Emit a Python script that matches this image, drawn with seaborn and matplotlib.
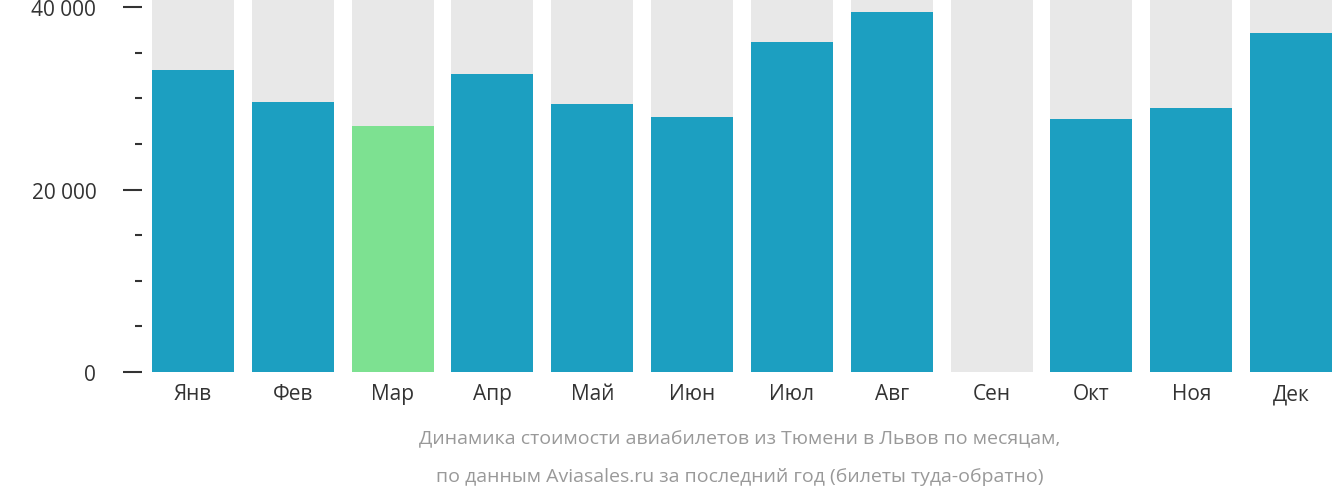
import matplotlib
matplotlib.use("Agg")
import matplotlib.pyplot as plt
import seaborn as sns
import pandas as pd

months = ["Янв", "Фев", "Мар", "Апр", "Май", "Июн", "Июл", "Авг", "Сен", "Окт", "Ноя", "Дек"]
prices = [33100, 29600, 26950, 32650, 29400, 27950, 36150, 39450, 0, 27700, 28950, 37150]
cheapest = "Мар"
ymax = 40900

df = pd.DataFrame({"month": months, "price": prices})
df["bg"] = ymax
colors = ["#6cf287" if m == cheapest else "#00b0dc" for m in months]

plt.rcParams["font.family"] = "Open Sans"
fig = plt.figure(figsize=(13.32, 5.02), dpi=100)
ax = fig.add_axes([152 / 1332, 129 / 502, 1 - 152 / 1332, 373 / 502])

sns.barplot(data=df, x="month", y="bg", color="#e8e8e8", width=0.82, ax=ax)
sns.barplot(data=df, x="month", y="price", hue="month", palette=colors,
            width=0.82, legend=False, ax=ax)

ax.set_xlim(-0.41, 11.41)
ax.set_ylim(0, ymax)
ax.set_yticks([0, 20000, 40000])
ax.set_yticklabels(["0 ₽", "20 000 ₽", "40 000 ₽"])
ax.set_yticks(range(0, 40001, 5000), minor=True)
ax.tick_params(axis="y", which="major", length=14, width=1.5, color="#333333",
               labelsize=15, labelcolor="#333333", pad=6)
ax.tick_params(axis="y", which="minor", length=5, width=1.5, color="#333333")
ax.tick_params(axis="x", length=0, labelsize=15, labelcolor="#333333", pad=8)
ax.spines[:].set_visible(False)
ax.set_xlabel("")
ax.set_ylabel("")
# shift y ticks left of the bars
ax.yaxis.set_tick_params(which="both", direction="out")
for t in ax.yaxis.get_major_ticks() + ax.yaxis.get_minor_ticks():
    t.tick1line.set_transform(t.tick1line.get_transform() + matplotlib.transforms.ScaledTranslation(-10 / 100, 0, fig.dpi_scale_trans))
    t.label1.set_transform(t.label1.get_transform() + matplotlib.transforms.ScaledTranslation(-10 / 100, 0, fig.dpi_scale_trans))

fig.text(0.555, 0.115, "Динамика стоимости авиабилетов из Тюмени в Львов по месяцам,",
         ha="center", fontsize=14, color="#999999")
fig.text(0.555, 0.04, "по данным Aviasales.ru за последний год (билеты туда-обратно)",
         ha="center", fontsize=14, color="#999999")

fig.savefig("out.png", dpi=100)
